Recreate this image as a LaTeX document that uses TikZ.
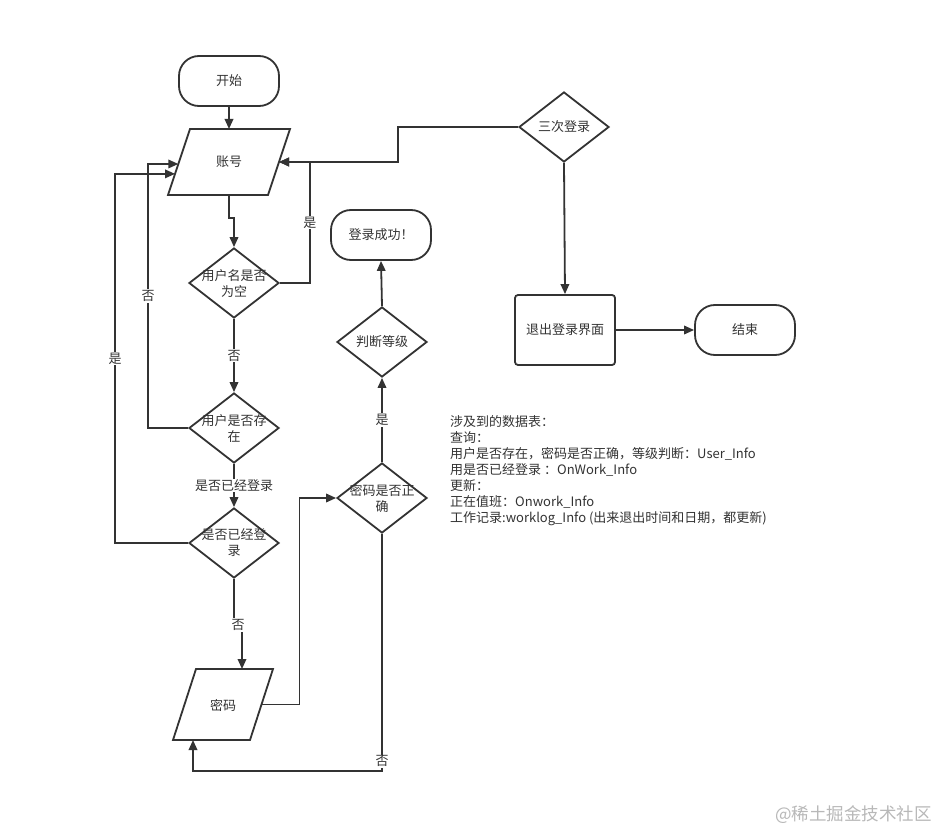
\documentclass[tikz,border=0pt]{standalone}
\usepackage{fontspec}
\setmainfont{Noto Sans CJK SC}
\usetikzlibrary{arrows.meta,shapes.geometric,calc}
\definecolor{ln}{HTML}{333333}
\definecolor{wm}{HTML}{B8B8B8}
\tikzset{
  base/.style={line width=1.8pt, draw=ln},
  term/.style={base, rounded corners=20pt, minimum width=100pt, minimum height=50pt},
  dia/.style={base, diamond, inner sep=0pt, minimum width=90pt, minimum height=70pt},
  boxnode/.style={base, rounded corners=3pt, minimum width=100pt, minimum height=70pt},
  txt/.style={align=center, inner sep=0pt, text=ln},
  lbl/.style={fill=white, inner sep=1pt, text=ln},
  arr/.style={base, -{Triangle[length=10pt,width=8.5pt]}},
  con/.style={base},
}
\begin{document}
\begin{tikzpicture}[x=1pt,y=-1pt,font=\fontsize{13}{16}\selectfont]
\useasboundingbox[fill=white] (0,0) rectangle (938,832);

% terminals
\node[term] (start) at (229,81) {\textcolor{ln}{开始}};
\node[term] (ok) at (381,235) {\textcolor{ln}{登录成功！}};
\node[term] (fin) at (745,330) {\textcolor{ln}{结束}};
\node[boxnode] (exit) at (565,330) {\textcolor{ln}{退出登录界面}};

% account parallelogram
\coordinate (aTL) at (190,129);
\coordinate (aTR) at (290,129);
\coordinate (aBR) at (268,195);
\coordinate (aBL) at (168,195);
\draw[base, line join=miter] (aTL) -- (aTR) -- (aBR) -- (aBL) -- cycle;
\node[txt] (acct) at (229,162) {账号};
\coordinate (aR) at ($(aTR)!0.5!(aBR)$);
\coordinate (aL1) at ($(aTL)!0.53!(aBL)$);
\coordinate (aL2) at ($(aTL)!0.68!(aBL)$);

% password parallelogram
\coordinate (pTL) at (196,669);
\coordinate (pTR) at (273,669);
\coordinate (pBR) at (250,740);
\coordinate (pBL) at (173,740);
\draw[base, line join=miter] (pTL) -- (pTR) -- (pBR) -- (pBL) -- cycle;
\node[txt] (pw) at (223,705) {密码};
\coordinate (pR) at ($(pTR)!0.5!(pBR)$);

% diamonds
\node[dia] (d1) at (234,283) {};
\node[txt] (t1) at (d1) {用户名是否\\为空};
\node[dia] (d2) at (234,428) {};
\node[txt] (t2) at (d2) {用户是否存\\在};
\node[dia] (d3) at (234,543) {};
\node[txt] (t3) at (d3) {是否已经登\\录};
\node[dia] (d4) at (564,127) {};
\node[txt] (t4) at (d4) {三次登录};
\node[dia] (d5) at (382,498) {};
\node[txt] (t5) at (d5) {密码是否正\\确};
\node[dia] (d6) at (382,342) {};
\node[txt] (t6) at (d6) {判断等级};

% connectors
\draw[arr] (start.south) -- (start.south |- aTL);
\draw[arr] (start.south |- aBL) -- ++(0,23) -| (d1.north);
\draw[arr] (d1.east) -- ++(30,0) |- node[lbl,pos=0.25]{是} (aR);
\draw[arr] (d4.west) -- ++(-120,0) |- (aR);
\draw[arr] (d4.south) -- (exit.north);
\draw[arr] (exit.east) -- (fin.west);
\draw[arr] (d1.south) -- node[lbl]{否} (d2.north);
\draw[arr] (d2.west) -- ++(-40,0) |- node[lbl,pos=0.25]{否} (aL1);
\draw[arr] (d2.south) -- node[lbl]{是否已经登录} (d3.north);
\draw[arr] (d3.west) -- ++(-73,0) |- node[lbl,pos=0.25]{是} (aL2);
\draw[arr] (d3.south) -- ++(0,46) -- node[lbl]{否} ++(8,0) -- ($(d3.south |- pTL)+(8,0)$);
\draw[arr] (pR) -- ++(38,0) |- (d5.west);
\draw[arr] (d5.south) -- node[lbl,pos=0.96]{否} ++(0,237) -| ($(pBL)+(20,0)$);
\draw[arr] (d5.north) -- node[lbl]{是} (d6.south);
\draw[arr] (d6.north) -- (ok.south);

% notes
\node[anchor=north west, align=left, inner sep=0pt, text=ln, font=\fontsize{13}{16}\selectfont] (notes) at (450,415) {涉及到的数据表：\\
查询：\\
用户是否存在，密码是否正确，等级判断：User\_Info\\
用是否已经登录 ：OnWork\_Info\\
更新：\\
正在值班：Onwork\_Info\\
工作记录:worklog\_Info (出来退出时间和日期，都更新)};

% watermark
\node[anchor=east, text=wm, inner sep=0pt, font=\fontsize{17.5}{20}\selectfont] (wmark) at (932,815) {@稀土掘金技术社区};
\end{tikzpicture}
\end{document}
